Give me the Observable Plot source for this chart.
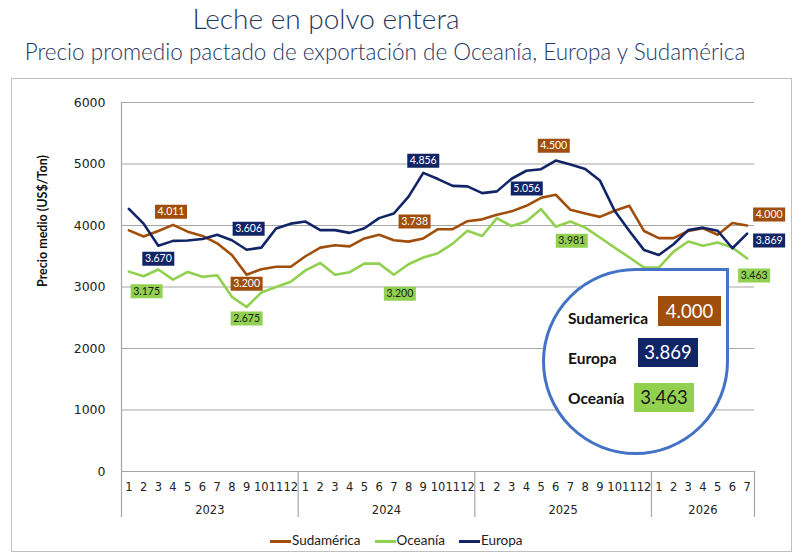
<!DOCTYPE html>
<html><head><meta charset="utf-8">
<script src="https://cdn.jsdelivr.net/npm/d3@7"></script>
<script src="https://cdn.jsdelivr.net/npm/@observablehq/plot@0.6"></script>
<style>
body{margin:0;background:#fff;}
#wrap{position:relative;width:800px;height:560px;overflow:hidden;font-family:Lato,"Open Sans",sans-serif;background:#fff;}
#title{position:absolute;top:2px;left:0;width:652px;text-align:center;font-size:28px;font-weight:300;color:#1F3864;line-height:32px;}
#subtitle{position:absolute;top:38px;left:0;width:770px;text-align:center;font-size:22.5px;font-weight:300;color:#1F3864;line-height:28px;}
#frame{position:absolute;left:11px;top:78px;width:781px;height:474px;border:1.5px solid #BFBFBF;box-sizing:border-box;}
#chart{position:absolute;left:0;top:78px;}
#callout{position:absolute;left:542px;top:268px;width:187px;height:187px;box-sizing:border-box;border:3px solid #4472C4;border-radius:50% 0 50% 50%;background:#fff;}
.cl{position:absolute;left:568px;font-weight:700;font-size:15.5px;color:#111;line-height:20px;}
.cb{position:absolute;font-size:18.5px;text-align:center;}
#legend{position:absolute;top:532px;left:270px;display:flex;gap:14px;font-size:13.5px;color:#222;align-items:center;}
#legend span.sw{display:inline-block;width:21px;height:2.5px;vertical-align:middle;margin-right:1px;}
</style></head>
<body>
<div id="wrap">
  <div id="title">Leche en polvo entera</div>
  <div id="subtitle">Precio promedio pactado de exportación de Oceanía, Europa y Sudamérica</div>
  <div id="frame"></div>
  <div id="chart"></div>
  <div id="legend"></div>
</div>
<script>
// ---- data ----
const months = ["1","2","3","4","5","6","7","8","9","10","11","12",
                "1","2","3","4","5","6","7","8","9","10","11","12",
                "1","2","3","4","5","6","7","8","9","10","11","12",
                "1","2","3","4","5","6","7"];
const years = ["2023","2024","2025","2026"];
const yearMonths = [12, 12, 12, 7];
const yTicks = [0, 1000, 2000, 3000, 4000, 5000, 6000];
const seriesNames = ["Sudamérica", "Oceanía", "Europa"];
const sudamerica = [3920,3820,3910,4011,3900,3830,3710,3520,3200,3290,3330,3330,
                    3500,3640,3680,3660,3790,3850,3760,3738,3790,3940,3940,4070,
                    4100,4175,4230,4320,4450,4500,4255,4195,4140,4240,4320,3910,
                    3795,3795,3910,3955,3850,4040,4000];
const oceania    = [3250,3175,3285,3120,3245,3165,3190,2840,2675,2910,3000,3085,
                    3270,3390,3200,3240,3380,3380,3200,3370,3480,3550,3705,3915,
                    3830,4120,3990,4065,4267,3981,4065,3965,3805,3640,3480,3315,
                    3315,3575,3740,3670,3725,3640,3463];
const europa     = [4270,4030,3670,3750,3755,3780,3850,3760,3606,3640,3950,4030,
                    4065,3925,3925,3880,3955,4120,4195,4470,4856,4755,4645,4636,
                    4527,4555,4760,4890,4915,5056,4990,4920,4730,4240,3910,3600,
                    3520,3695,3925,3965,3915,3630,3869];
// months whose values are labelled
const sudLabelIdx  = [3, 8, 19, 29, 42];
const oceLabelIdx  = [1, 8, 18, 29, 42];
const eurLabelIdx  = [2, 8, 20, 29, 42];

// ---- styles / offsets (px) ----
const colors = {"Sudamérica": "#A04E0C", "Oceanía": "#92D050", "Europa": "#102466"};
const textColors = {"Sudamérica": "#fff", "Oceanía": "#1a1a1a", "Europa": "#fff"};
const sudOff = [[-2,-13],[0,9],[6,-20],[-2,-49],[22,-11]];
const oceOff = [[3,15],[0,11.5],[6,19],[16,14],[7,17]];
const eurOff = [[0,13],[2,-21],[0,-12],[-29,28],[22,7]];

const values = {"Sudamérica": sudamerica, "Oceanía": oceania, "Europa": europa};
const rows = seriesNames.flatMap(s => values[s].map((v, i) => ({s, i, v})));
const fmt = v => (v / 1000).toFixed(3);
const mkLabels = (s, idx, off) => idx.map((i, k) => ({s, i, v: values[s][i], dx: off[k][0], dy: off[k][1]}));
const labels = [
  ...mkLabels("Sudamérica", sudLabelIdx, sudOff),
  ...mkLabels("Oceanía", oceLabelIdx, oceOff),
  ...mkLabels("Europa", eurLabelIdx, eurOff)
];

// year boundaries and centers
let cum = 0;
const yearInfo = years.map((y, k) => { const start = cum; cum += yearMonths[k]; return {y, start, end: cum}; });
const bounds = yearInfo.map(d => d.end - 0.5);
const yearCenters = yearInfo.map(d => ({y: d.y, c: (d.start + d.end - 1) / 2}));

const height = 474, mTop = 24, mBottom = 81;
const pxPerUnit = (height - mTop - mBottom) / 6000;
const below = -46 / pxPerUnit; // extend separators 46px below zero line

const boxSymbol = {draw(ctx) { ctx.rect(-16, -7, 32, 14); }};
const grid = "#A6A6A6";

const labelMarks = labels.flatMap(l => [
  Plot.dot([l], {x: "i", y: "v", dx: l.dx, dy: l.dy, symbol: boxSymbol, r: 5, fill: colors[l.s], stroke: null}),
  Plot.text([l], {x: "i", y: "v", dx: l.dx, dy: l.dy, text: d => fmt(d.v), fill: textColors[l.s], fontFamily: "Lato", fontSize: 10.5})
]);

const chart = Plot.plot({
  width: 800, height,
  marginTop: mTop, marginLeft: 121, marginRight: 46, marginBottom: mBottom,
  style: {fontFamily: "DejaVu Sans", background: "transparent", overflow: "visible"},
  x: {domain: [-0.5, months.length - 0.5], axis: null},
  y: {domain: [0, 6000], axis: null},
  marks: [
    Plot.ruleY(yTicks, {stroke: grid, strokeWidth: 1.2}),
    Plot.ruleX([-0.5], {y1: 6000, y2: below, stroke: grid, strokeWidth: 1.2}),
    Plot.ruleX(bounds, {y1: 0, y2: below, stroke: grid, strokeWidth: 1.2}),
    Plot.text(yTicks, {frameAnchor: "left", y: d => d, dx: -16, textAnchor: "end", text: d => String(d), fontSize: 12.5, fill: "#222"}),
    Plot.text(["Precio medio (US$/Ton)"], {frameAnchor: "left", dx: -79, rotate: -90, text: d => d, fontSize: 12.5, fontWeight: 700, fontFamily: "Lato", fill: "#111"}),
    Plot.text(months, {x: (d, i) => i, y: 0, dy: 16, text: d => d, fontSize: 11.5, fill: "#222"}),
    Plot.text(yearCenters, {x: "c", y: 0, dy: 39, text: "y", fontSize: 11.5, fill: "#222"}),
    Plot.lineY(rows, {x: "i", y: "v", z: "s", stroke: d => colors[d.s], strokeWidth: 2.6, strokeLinejoin: "round"}),
    ...labelMarks
  ]
});
document.getElementById("chart").appendChild(chart);

// callout with latest values
const wrap = document.getElementById("wrap");
const callout = document.createElement("div");
callout.id = "callout";
wrap.appendChild(callout);
const last = s => fmt(values[s][values[s].length - 1]);
const calloutItems = [
  {s: "Sudamérica", name: "Sudamerica", ty: 318, bx: 658, by: 296, bw: 63, bh: 30},
  {s: "Europa", name: "Europa", ty: 358, bx: 638, by: 338, bw: 60, bh: 29},
  {s: "Oceanía", name: "Oceanía", ty: 398, bx: 634, by: 383, bw: 60, bh: 29}
];
for (const c of calloutItems) {
  const t = document.createElement("div");
  t.className = "cl"; t.textContent = c.name; t.style.top = (c.ty - 10) + "px";
  wrap.appendChild(t);
  const b = document.createElement("div");
  b.className = "cb"; b.textContent = last(c.s);
  Object.assign(b.style, {left: c.bx + "px", top: c.by + "px", width: c.bw + "px", height: c.bh + "px",
    lineHeight: c.bh + "px", background: colors[c.s], color: textColors[c.s]});
  wrap.appendChild(b);
}

// legend
const legend = document.getElementById("legend");
for (const s of seriesNames) {
  const it = document.createElement("div");
  it.innerHTML = `<span class="sw" style="background:${colors[s]}"></span>${s}`;
  legend.appendChild(it);
}
</script>
</body></html>
